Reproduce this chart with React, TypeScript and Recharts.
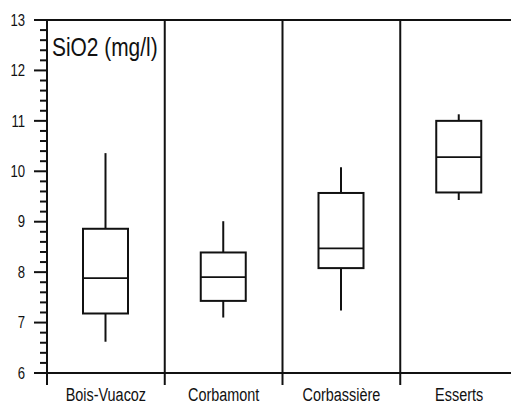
import React from 'react';
import { ComposedChart, Bar, XAxis, YAxis, ReferenceLine, Customized } from 'recharts';

const categories = ['Bois-Vuacoz', 'Corbamont', 'Corbassière', 'Esserts'];
const minValues = [6.62, 7.1, 7.24, 9.43];
const q1Values = [7.18, 7.43, 8.08, 9.58];
const medianValues = [7.88, 7.9, 8.47, 10.28];
const q3Values = [8.86, 8.39, 9.57, 11.0];
const maxValues = [10.36, 9.01, 10.08, 11.13];
const majorTicks = [6, 7, 8, 9, 10, 11, 12, 13];
const minorStep = 0.2;
const yLabel = 'SiO2 (mg/l)';

const yTicks: number[] = [];
for (let i = 0; i < majorTicks.length - 1; i++) {
  for (let k = 0; k < 5; k++) yTicks.push(Math.round((majorTicks[i] + k * minorStep) * 10) / 10);
}
yTicks.push(majorTicks[majorTicks.length - 1]);

const boundaries = categories.map((_, i) => i).concat([categories.length]);
const centers = categories.map((_, i) => i + 0.5);
const xTicks = [...boundaries, ...centers].sort((a, b) => a - b);

const data = categories.map((name, i) => ({
  name,
  pos: i + 0.5,
  min: minValues[i],
  q1: q1Values[i],
  median: medianValues[i],
  q3: q3Values[i],
  max: maxValues[i],
}));

const FONT = "'Liberation Sans', Arial, sans-serif";
const INK = '#111';
const NARROW = 0.82;

const NarrowText = ({ x, y, size, anchor, children }: any) => (
  <text
    transform={`translate(${x},${y}) scale(${NARROW},1)`}
    x={0}
    y={0}
    textAnchor={anchor}
    fontFamily={FONT}
    fontSize={size}
    fill={INK}
  >
    {children}
  </text>
);

const BoxShape = (props: any) => {
  const { x, y, width, height } = props;
  const p = props.payload ?? props;
  const yTop = y;
  const yBot = y + height;
  const toY = (v: number) => yBot + (yTop - yBot) * (v - p.min) / (p.max - p.min);
  const cx = x + width / 2;
  return (
    <g>
      <line x1={cx} x2={cx} y1={toY(p.max)} y2={toY(p.q3)} stroke={INK} strokeWidth={2} />
      <line x1={cx} x2={cx} y1={toY(p.q1)} y2={toY(p.min)} stroke={INK} strokeWidth={2} />
      <rect x={x} y={toY(p.q3)} width={width} height={toY(p.q1) - toY(p.q3)} fill="#fff" stroke={INK} strokeWidth={2} />
      <line x1={x} x2={x + width} y1={toY(p.median)} y2={toY(p.median)} stroke={INK} strokeWidth={1.8} />
    </g>
  );
};

const YTick = (props: any) => {
  const { x, y, payload } = props;
  const v = payload.value;
  const major = Math.abs(v - Math.round(v)) < 1e-6;
  if (major) {
    return (
      <g>
        <line x1={x - 13} x2={x} y1={y} y2={y} stroke={INK} strokeWidth={2} />
        <NarrowText x={x - 22} y={y + 5.7} size={16} anchor="end">
          {v}
        </NarrowText>
      </g>
    );
  }
  return <line x1={x - 7} x2={x} y1={y} y2={y} stroke={INK} strokeWidth={2} />;
};

const XTick = (props: any) => {
  const { x, y, payload } = props;
  const v = payload.value;
  if (Math.abs(v - Math.round(v)) < 1e-6) {
    return <line x1={x} x2={x} y1={y} y2={y + 12} stroke={INK} strokeWidth={2} />;
  }
  const idx = Math.floor(v);
  return (
    <NarrowText x={x} y={y + 27.5} size={17.6} anchor="middle">
      {categories[idx]}
    </NarrowText>
  );
};

const TitleLabel = (props: any) => {
  const off = props.offset ?? { left: 47, top: 20 };
  return (
    <NarrowText x={off.left + 5} y={off.top + 36} size={25.5} anchor="start">
      {yLabel}
    </NarrowText>
  );
};

export default function App() {
  return (
    <div style={{ width: 511, height: 405, overflow: 'hidden', background: '#fff' }}>
      <style>{'html,body{margin:0;padding:0;overflow:hidden;background:#fff}'}</style>
      <ComposedChart
        width={518}
        height={405}
        data={data}
        margin={{ top: 20, right: 0, bottom: 0, left: 0 }}
      >
        <XAxis
          dataKey="pos"
          type="number"
          domain={[0, categories.length]}
          ticks={xTicks}
          interval={0}
          tickSize={0}
          tickMargin={0}
          tickLine={false}
          tick={<XTick />}
          axisLine={{ stroke: INK, strokeWidth: 2 }}
          height={32}
          allowDataOverflow
        />
        <YAxis
          type="number"
          domain={[majorTicks[0], majorTicks[majorTicks.length - 1]]}
          ticks={yTicks}
          interval={0}
          tickSize={0}
          tickMargin={0}
          tickLine={false}
          tick={<YTick />}
          axisLine={{ stroke: INK, strokeWidth: 2 }}
          width={47}
          allowDataOverflow
        />
        {boundaries.slice(1, -1).map((b) => (
          <ReferenceLine key={b} x={b} stroke={INK} strokeWidth={2} />
        ))}
        <ReferenceLine y={majorTicks[majorTicks.length - 1]} stroke={INK} strokeWidth={2} />
        <Bar
          dataKey={(d: any) => [d.min, d.max]}
          barSize={45}
          shape={<BoxShape />}
          isAnimationActive={false}
        />
        <Customized component={TitleLabel} />
      </ComposedChart>
    </div>
  );
}
